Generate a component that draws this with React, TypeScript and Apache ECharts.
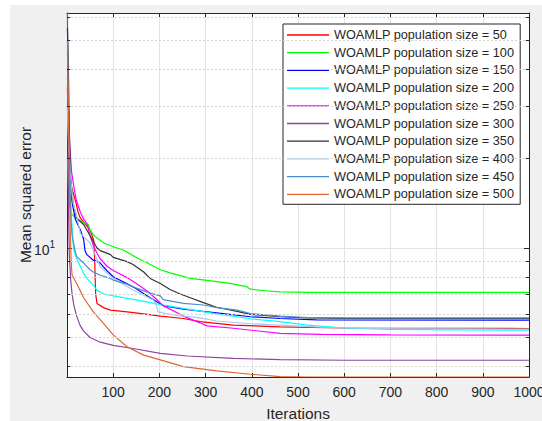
import React, { useEffect, useRef } from 'react';
import * as echarts from 'echarts';

const seriesNames = [
  'WOAMLP population size = 50',
  'WOAMLP population size = 100',
  'WOAMLP population size = 150',
  'WOAMLP population size = 200',
  'WOAMLP population size = 250',
  'WOAMLP population size = 300',
  'WOAMLP population size = 350',
  'WOAMLP population size = 400',
  'WOAMLP population size = 450',
  'WOAMLP population size = 500',
];

const seriesColors = ['#ff0000', '#00ff00', '#0000ff', '#00ffff', '#ff00ff', '#8e44a0', '#333333', '#a6c8f5', '#4a8fcc', '#dd6633'];

const pop50: [number, number][] = [[1, 35], [2, 25], [5, 19], [10, 16], [18, 14.5], [24, 13.2], [29, 12.6], [40, 12.0], [50, 11.5], [58, 10.6], [60, 9.0], [62, 7.0], [65, 6.5], [79, 6.3], [94, 6.18], [130, 6.1], [166, 6.0], [202, 5.9], [252, 5.79], [288, 5.65], [360, 5.5], [461, 5.43], [600, 5.38], [800, 5.37], [1000, 5.36]];
const pop100: [number, number][] = [[1, 20], [3, 16], [5, 14], [10, 13], [20, 12.6], [30, 12.3], [40, 12.1], [46, 12.0], [50, 11.5], [57, 11.1], [65, 10.8], [80, 10.4], [100, 10.1], [122, 9.85], [152, 9.25], [174, 8.9], [202, 8.45], [223, 8.25], [267, 7.9], [299, 7.8], [353, 7.6], [389, 7.41], [397, 7.27], [430, 7.18], [461, 7.12], [520, 7.09], [1000, 7.09]];
const pop150: [number, number][] = [[1, 30], [3, 22], [6, 17], [10, 14.5], [18, 12.5], [29, 11.5], [36, 10.7], [39, 9.8], [43, 9.5], [57, 9.1], [72, 8.9], [86, 8.4], [100, 8.0], [143, 7.4], [180, 6.8], [208, 6.4], [252, 6.22], [324, 6.05], [397, 5.87], [461, 5.79], [540, 5.73], [1000, 5.72]];
const pop200: [number, number][] = [[1, 28], [4, 22], [7, 16], [10, 12.5], [14, 9.9], [21, 9.2], [36, 8.2], [43, 7.9], [57, 7.5], [65, 7.2], [80, 7.0], [100, 6.9], [158, 6.65], [202, 6.45], [252, 6.26], [324, 6.0], [397, 5.78], [461, 5.65], [520, 5.5], [600, 5.38], [700, 5.32], [850, 5.3], [1000, 5.29]];
const pop250: [number, number][] = [[1, 38], [3, 30], [6, 22], [10, 18], [15, 16], [20, 14.5], [29, 13.2], [36, 12.5], [43, 12.1], [50, 11.0], [57, 10.2], [65, 9.6], [72, 9.2], [86, 8.7], [100, 8.4], [130, 7.95], [150, 7.6], [174, 7.15], [190, 6.8], [208, 6.4], [252, 5.9], [288, 5.6], [303, 5.47], [360, 5.37], [461, 5.16], [550, 5.12], [700, 5.1], [1000, 5.09]];
const pop300: [number, number][] = [[1, 61.8], [3, 14], [5, 9.5], [8, 7.8], [11, 7.0], [15, 6.4], [21, 5.9], [28, 5.5], [36, 5.25], [50, 5.0], [72, 4.82], [100, 4.7], [143, 4.59], [202, 4.42], [260, 4.33], [360, 4.25], [461, 4.21], [600, 4.19], [1000, 4.19]];
const pop350: [number, number][] = [[1, 55], [3, 40], [5, 25], [8, 17], [14, 14], [21, 12.6], [36, 12.0], [50, 11.0], [65, 10.0], [72, 9.8], [94, 9.5], [100, 9.3], [130, 9.0], [143, 8.8], [166, 8.3], [180, 7.9], [202, 7.6], [223, 7.25], [245, 7.0], [267, 6.8], [295, 6.55], [324, 6.32], [368, 6.12], [397, 5.98], [461, 5.87], [520, 5.82], [600, 5.8], [1000, 5.79]];
const pop400: [number, number][] = [[1, 30], [4, 22], [8, 17], [14, 14], [21, 12.8], [29, 11.2], [50, 10.4], [72, 8.65], [100, 7.9], [143, 7.22], [187, 6.68], [192, 6.5], [197, 6.1], [230, 5.95], [288, 5.82], [324, 5.68], [397, 5.56], [461, 5.5], [560, 5.4], [700, 5.35], [1000, 5.33]];
const pop450: [number, number][] = [[1, 50], [3, 30], [5, 20], [8, 13], [11, 11.0], [18, 9.7], [21, 9.35], [36, 8.9], [50, 8.45], [57, 8.3], [72, 8.1], [94, 7.9], [100, 7.8], [130, 7.55], [143, 7.4], [180, 7.05], [202, 6.9], [208, 6.7], [252, 6.51], [295, 6.43], [324, 6.3], [368, 6.18], [397, 6.02], [461, 5.9], [520, 5.83], [600, 5.82], [1000, 5.82]];
const pop500: [number, number][] = [[1, 46], [3, 30], [5, 18], [7, 11.5], [9, 9.0], [11, 8.1], [21, 7.6], [36, 6.8], [57, 6.1], [79, 5.58], [100, 5.1], [130, 4.65], [166, 4.36], [202, 4.2], [252, 3.99], [324, 3.86], [397, 3.76], [461, 3.69], [520, 3.68], [1000, 3.68]];

const allData = [pop50, pop100, pop150, pop200, pop250, pop300, pop350, pop400, pop450, pop500];

const minorGridValues = [4, 5, 6, 7, 8, 9, 20, 30, 40, 50, 60];
const yMin = 3.68;
const yMax = 61.8;
const xMin = 0;
const xMax = 1000;
const xInterval = 100;

const font = '"Liberation Sans", Arial, Helvetica, sans-serif';
const axisColor = '#262626';

export default function App() {
  const ref = useRef<HTMLDivElement>(null);
  useEffect(() => {
    document.body.style.margin = '0';
    const chart = echarts.init(ref.current as HTMLDivElement, null, { renderer: 'svg', width: 542, height: 421 });
    const lineSeries = allData.map((d, i) => ({
      name: seriesNames[i],
      type: 'line',
      data: d,
      xAxisIndex: 0,
      yAxisIndex: 0,
      symbol: 'none',
      showSymbol: false,
      z: 3,
      lineStyle: { color: seriesColors[i], width: 1.2 },
      itemStyle: { color: seriesColors[i] },
      emphasis: { disabled: true },
    }));
    const option: any = {
      animation: false,
      backgroundColor: 'transparent',
      textStyle: { fontFamily: font },
      grid: {
        left: 67, right: 13, top: 13, bottom: 44, show: true, backgroundColor: '#ffffff', borderWidth: 0,
        containLabel: false, outerBoundsMode: 'none',
      },
      legend: {
        data: seriesNames,
        orient: 'vertical',
        left: 283,
        top: 24,
        padding: [4, 6, 3, 4],
        itemGap: 3.7,
        itemWidth: 42,
        itemHeight: 1.3,
        icon: 'rect',
        selectedMode: false,
        backgroundColor: '#ffffff',
        borderColor: axisColor,
        borderWidth: 1,
        borderRadius: 0,
        textStyle: { fontSize: 12.7, color: axisColor, fontFamily: font, lineHeight: 14 },
      },
      xAxis: [
        {
          type: 'value', min: xMin, max: xMax, interval: xInterval, position: 'bottom',
          name: 'Iterations', nameLocation: 'middle', nameGap: 28, nameMoveOverlap: false,
          nameTextStyle: { fontSize: 15.5, color: axisColor, fontFamily: font },
          axisLine: { show: true, onZero: false, lineStyle: { color: axisColor, width: 1 } },
          axisTick: { show: true, inside: true, length: 4, lineStyle: { color: axisColor } },
          axisLabel: { fontSize: 14, color: axisColor, margin: 8, fontFamily: font, formatter: (v: number) => (v === 0 ? '' : String(v)) },
          splitLine: { show: true, lineStyle: { color: '#e3e3e3', width: 1 } },
        },
        {
          type: 'value', min: xMin, max: xMax, interval: xInterval, position: 'top',
          axisLine: { show: true, onZero: false, lineStyle: { color: axisColor, width: 1 } },
          axisTick: { show: true, inside: true, length: 4, lineStyle: { color: axisColor } },
          axisLabel: { show: false },
          splitLine: { show: false },
        },
      ],
      yAxis: [
        {
          type: 'log', logBase: 10, min: yMin, max: yMax, position: 'left',
          name: 'Mean squared error', nameLocation: 'middle', nameGap: 34, nameRotate: 90, nameMoveOverlap: false,
          nameTextStyle: { fontSize: 15.5, color: axisColor, fontFamily: font },
          axisLine: { show: true, onZero: false, lineStyle: { color: axisColor, width: 1 } },
          axisTick: { show: true, inside: true, length: 5, lineStyle: { color: axisColor } },
          axisLabel: {
            margin: 12,
            formatter: (v: number) => (Math.abs(v - 10) < 1e-6 ? '{a|10}{b|1}' : ''),
            rich: {
              a: { fontSize: 14, color: axisColor, fontFamily: font, lineHeight: 18, verticalAlign: 'bottom' },
              b: { fontSize: 10, color: axisColor, fontFamily: font, lineHeight: 10, verticalAlign: 'top' },
            },
          },
          splitLine: { show: true, lineStyle: { color: '#e3e3e3', width: 1 } },
        },
        {
          type: 'log', logBase: 10, min: yMin, max: yMax, position: 'right',
          axisLine: { show: true, onZero: false, lineStyle: { color: axisColor, width: 1 } },
          axisTick: { show: true, inside: true, length: 5, lineStyle: { color: axisColor } },
          axisLabel: { show: false },
          splitLine: { show: false },
        },
      ],
      series: [
        {
          type: 'line', data: [], xAxisIndex: 0, yAxisIndex: 0, silent: true, z: 1,
          markLine: {
            silent: true, symbol: ['none', 'none'], label: { show: false },
            lineStyle: { color: '#d4d4d4', type: [2, 2], width: 1 },
            emphasis: { disabled: true },
            data: minorGridValues.map((v) => ({ yAxis: v })),
          },
        },
        {
          type: 'line', data: [], xAxisIndex: 0, yAxisIndex: 0, silent: true, z: 5,
          markLine: {
            silent: true, symbol: ['none', 'none'], label: { show: false },
            lineStyle: { color: axisColor, type: 'solid', width: 1 },
            emphasis: { disabled: true },
            data: minorGridValues.flatMap((v) => [
              [{ coord: [xMin, v] }, { coord: [xMin + 7, v] }],
              [{ coord: [xMax - 7, v] }, { coord: [xMax, v] }],
            ]),
          },
        },
        ...lineSeries,
      ],
    };
    chart.setOption(option);
    return () => chart.dispose();
  }, []);
  return (
    <div style={{ position: 'relative', width: 542, height: 421, background: '#ffffff', overflow: 'hidden' }}>
      <div style={{ position: 'absolute', left: 10, top: 5, right: 0, bottom: 0, background: '#f0f0f0' }} />
      <div ref={ref} style={{ position: 'absolute', left: 0, top: 0, width: 542, height: 421 }} />
    </div>
  );
}
